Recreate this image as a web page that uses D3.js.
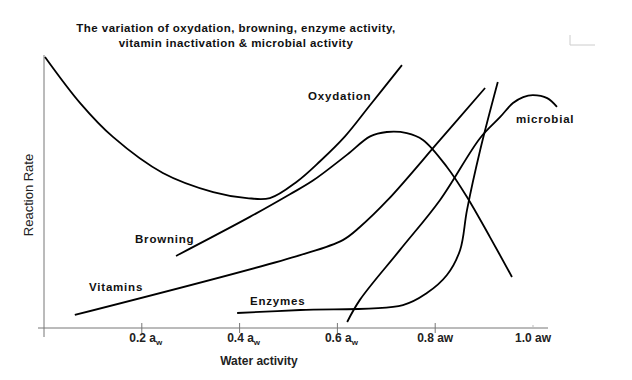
<!DOCTYPE html>
<html><head><meta charset="utf-8">
<script src="https://cdn.jsdelivr.net/npm/d3@7"></script>
<style>body{margin:0;background:#fff}svg{display:block}text{font-family:"Liberation Sans",Arial,sans-serif}</style>
</head><body>
<script>
// Data (water activity, relative reaction rate)
const oxydation = [[0.002,99.3],[0.074,82.4],[0.141,70.0],[0.243,56.8],[0.346,49.8],[0.415,47.6],[0.462,47.6],[0.517,53.6],[0.564,61.0],[0.616,70.3],[0.667,81.7],[0.732,96.3]];
const browning = [[0.270,26.4],[0.421,40.7],[0.503,49.0],[0.550,54.0],[0.620,63.5],[0.667,70.2],[0.701,71.8],[0.742,71.4],[0.775,68.9],[0.824,59.0],[0.865,48.0],[0.912,33.3],[0.957,18.7]];
const vitamins = [[0.063,4.8],[0.524,26.7],[0.611,32.2],[0.646,37.0],[0.703,46.9],[0.810,68.9],[0.902,87.9]];
const enzymes = [[0.395,5.5],[0.524,6.6],[0.734,8.4],[0.783,12.8],[0.824,19.4],[0.851,28.6],[0.865,43.2],[0.892,65.2],[0.928,90.1]];
const microbial = [[0.620,2.2],[0.646,10.3],[0.728,28.6],[0.810,46.9],[0.892,69.6],[0.933,77.3],[0.959,82.4],[0.980,84.6],[1.000,85.3],[1.029,84.2],[1.049,81.0]];
const tickValues = [0.2,0.4,0.6,0.8,1.0];
const tickMain = ["0.2 a","0.4 a","0.6 a","0.8 aw","1.0 aw"];
const tickSub = ["w","w","w","",""];
const titleLines = ["The variation of oxydation, browning, enzyme activity,","vitamin inactivation & microbial activity"];
const seriesNames = ["Oxydation","Browning","Vitamins","Enzymes","microbial"];

const W=632,H=380;
const x = d3.scaleLinear().domain([0,1]).range([44,533]);
const y = d3.scaleLinear().domain([0,100]).range([328,55]);
const svg = d3.select("body").append("svg").attr("width",W).attr("height",H);

// title
svg.selectAll("text.title").data(titleLines).join("text").attr("class","title")
  .attr("x",236).attr("y",(d,i)=>32+i*15).attr("text-anchor","middle")
  .attr("font-size",11.5).attr("font-weight","bold").attr("letter-spacing",0.45).attr("fill","#111").text(d=>d);

// axes
svg.append("line").attr("x1",x(0)).attr("x2",x(0)).attr("y1",y(100)).attr("y2",337).attr("stroke","#777").attr("stroke-width",1);
svg.append("line").attr("x1",38).attr("x2",548).attr("y1",y(0)).attr("y2",y(0)).attr("stroke","#777").attr("stroke-width",1);
svg.selectAll("line.tick").data(tickValues).join("line").attr("class","tick")
  .attr("x1",d=>x(d)).attr("x2",d=>x(d)).attr("y1",d=>d<1?y(0)-5:y(0)-3).attr("y2",d=>d<1?y(0)+5:y(0)-1)
  .attr("stroke",d=>d<1?"#777":"#bbb").attr("stroke-width",1);
const tl = svg.selectAll("text.tl").data(tickValues).join("text").attr("class","tl")
  .attr("x",(d,i)=>x(d)+(i<3?4:0)).attr("y",342).attr("text-anchor","middle")
  .attr("font-size",12).attr("font-weight","bold").attr("fill","#222");
tl.append("tspan").text((d,i)=>tickMain[i]);
tl.append("tspan").attr("dy",3).attr("font-size",8).text((d,i)=>tickSub[i]);

svg.append("text").attr("x",259).attr("y",365).attr("text-anchor","middle")
  .attr("font-size",12).attr("font-weight","bold").attr("fill","#222").text("Water activity");
svg.append("text").attr("transform","translate(33,195) rotate(-90)").attr("text-anchor","middle")
  .attr("font-size",13).attr("fill","#222").text("Reaction Rate");

// curves
const line = d3.line().x(d=>x(d[0])).y(d=>y(d[1])).curve(d3.curveCatmullRom.alpha(0.5));
const all = [oxydation,browning,vitamins,enzymes,microbial];
svg.selectAll("path.s").data(all).join("path").attr("class","s")
  .attr("d",line).attr("fill","none").attr("stroke","#000").attr("stroke-width",1.8);

// labels
const labelPos = [[308,100],[135,243],[89,291],[250,305],[516,123]];
svg.selectAll("text.lab").data(seriesNames).join("text").attr("class","lab")
  .attr("x",(d,i)=>labelPos[i][0]).attr("y",(d,i)=>labelPos[i][1])
  .attr("font-size",11.5).attr("font-weight","bold").attr("letter-spacing",0.8).attr("fill","#111").text(d=>d);

// corner mark
svg.append("path").attr("d","M570,35V45H595").attr("fill","none").attr("stroke","#ccc").attr("stroke-width",1);
</script>
</body></html>
